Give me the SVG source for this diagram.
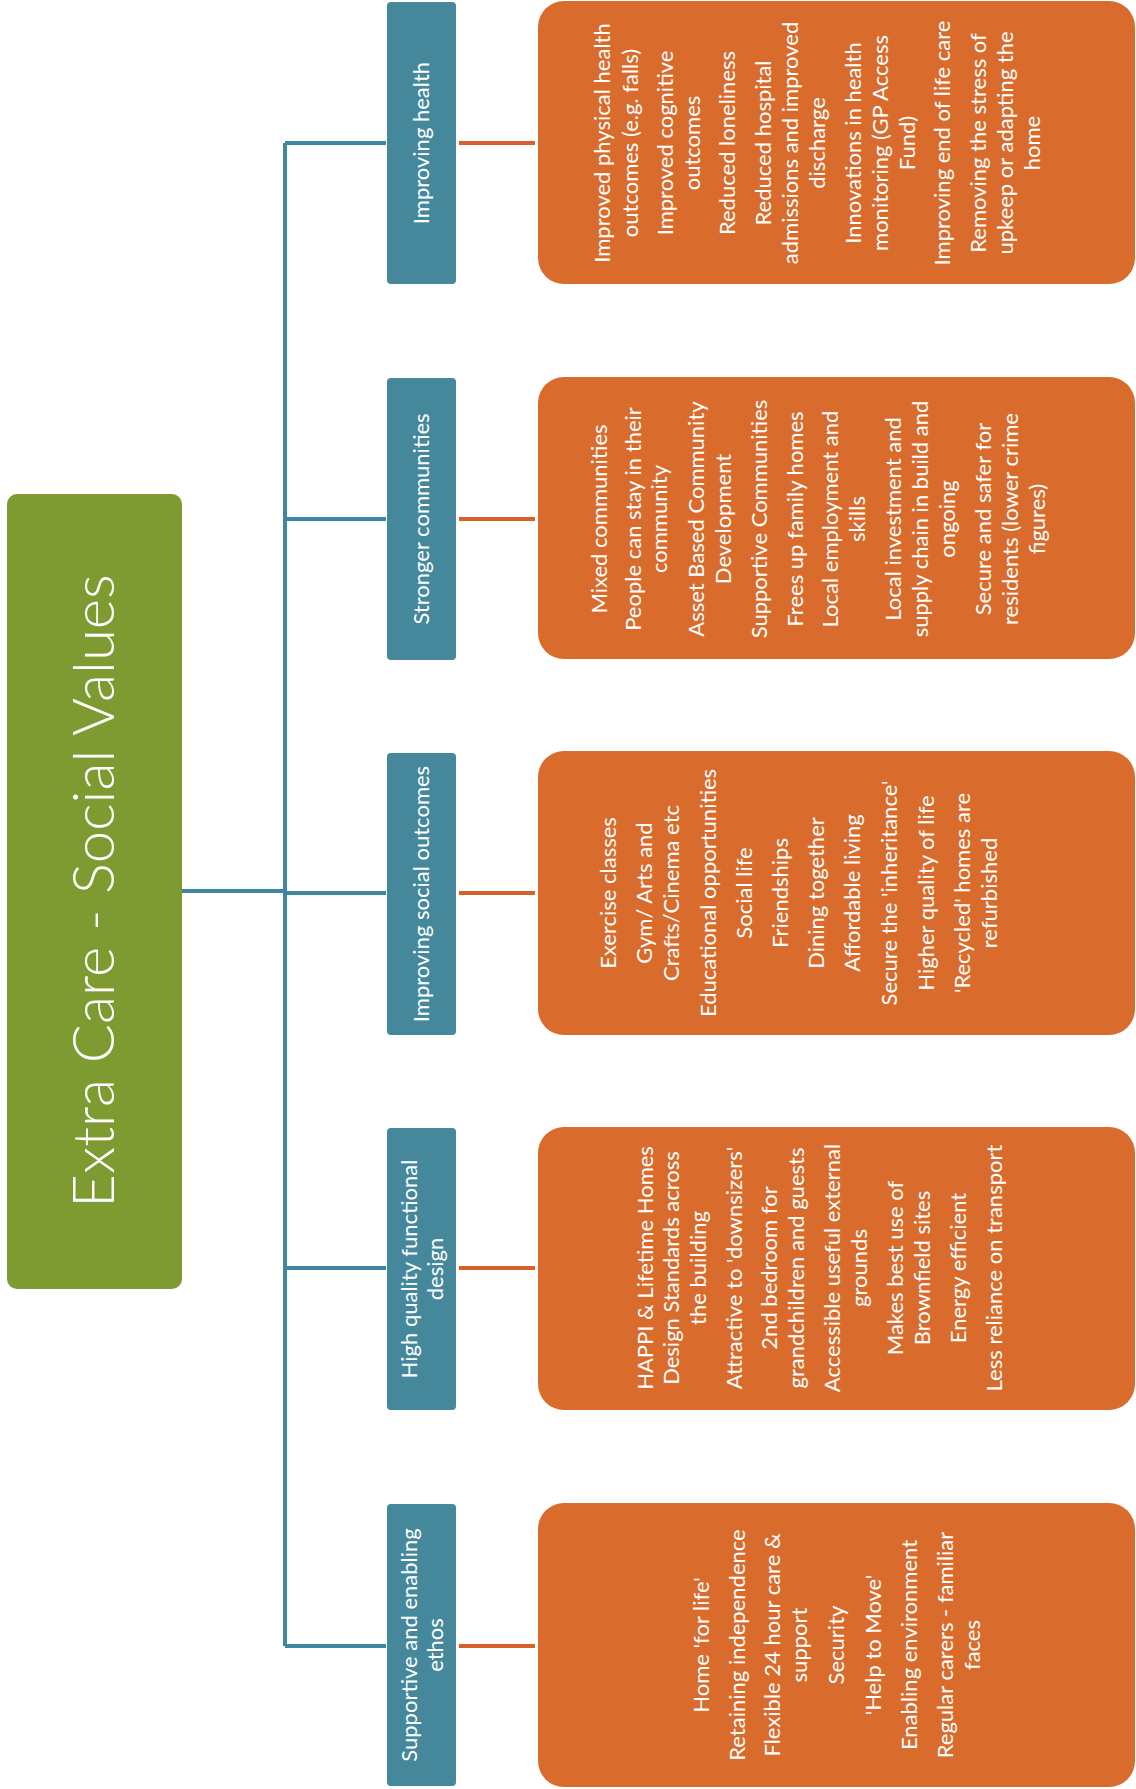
<svg xmlns="http://www.w3.org/2000/svg" width="1136" height="1789" viewBox="0 0 1136 1789">
<style>
.t{font-family:Lato,"Open Sans","Liberation Sans",sans-serif;fill:#ffffff;text-anchor:middle;font-size:22px}
.title{font-size:58px;font-weight:300}
.green{fill:#7E9B31}
.teal{fill:#45879B}
.orange{fill:#D96B2C}
.cb{stroke:#3F86A0;stroke-width:4;fill:none}
.co{stroke:#D6612A;stroke-width:4;fill:none}
</style>
<rect width="1136" height="1789" fill="#ffffff"/>
<g id="connectors">
<path class="cb" d="M182 891H285M285 143V1646M285 143H386M285 519H386M285 893H386M285 1268H386M285 1646H386"/>
<path class="co" d="M459 143H535M459 519H535M459 893H535M459 1268H535M459 1646H535"/>
</g>
<g id="root">
<rect class="green" x="7" y="494" width="175" height="795" rx="10"/>
<text class="t title" transform="translate(114,891) rotate(-90)">Extra Care - Social Values</text>
</g>
<g id="cat-health">
<rect class="teal" x="387" y="2" width="69" height="282" rx="4"/>
<g transform="rotate(-90)"><text class="t" x="-143" y="429">Improving health</text></g>
</g>
<g id="cat-communities">
<rect class="teal" x="387" y="378" width="69" height="282" rx="4"/>
<g transform="rotate(-90)"><text class="t" x="-519" y="429">Stronger communities</text></g>
</g>
<g id="cat-social">
<rect class="teal" x="387" y="753" width="69" height="282" rx="4"/>
<g transform="rotate(-90)"><text class="t" x="-894" y="429">Improving social outcomes</text></g>
</g>
<g id="cat-design">
<rect class="teal" x="387" y="1128" width="69" height="282" rx="4"/>
<g transform="rotate(-90)"><text class="t" x="-1269" y="417">High quality functional</text><text class="t" x="-1269" y="443">design</text></g>
</g>
<g id="cat-ethos">
<rect class="teal" x="387" y="1504" width="69" height="282" rx="4"/>
<g transform="rotate(-90)"><text class="t" x="-1645" y="417">Supportive and enabling</text><text class="t" x="-1645" y="443">ethos</text></g>
</g>
<g id="detail-health">
<rect class="orange" x="538" y="1" width="597" height="283" rx="26"/>
<g transform="rotate(-90)">
<text class="t" x="-143" y="610">Improved physical health</text>
<text class="t" x="-143" y="638">outcomes (e.g. falls)</text>
<text class="t" x="-143" y="673">Improved cognitive</text>
<text class="t" x="-143" y="700">outcomes</text>
<text class="t" x="-143" y="735">Reduced loneliness</text>
<text class="t" x="-143" y="771">Reduced hospital</text>
<text class="t" x="-143" y="798">admissions and improved</text>
<text class="t" x="-143" y="825">discharge</text>
<text class="t" x="-143" y="861">Innovations in health</text>
<text class="t" x="-143" y="888">monitoring (GP Access</text>
<text class="t" x="-143" y="915">Fund)</text>
<text class="t" x="-143" y="950">Improving end of life care</text>
<text class="t" x="-143" y="986">Removing the stress of</text>
<text class="t" x="-143" y="1013">upkeep or adapting the</text>
<text class="t" x="-143" y="1040">home</text>
</g>
</g>
<g id="detail-communities">
<rect class="orange" x="538" y="377" width="597" height="282" rx="26"/>
<g transform="rotate(-90)">
<text class="t" x="-519" y="607">Mixed communities</text>
<text class="t" x="-519" y="641">People can stay in their</text>
<text class="t" x="-519" y="667">community</text>
<text class="t" x="-519" y="704">Asset Based Community</text>
<text class="t" x="-519" y="731">Development</text>
<text class="t" x="-519" y="767">Supportive Communities</text>
<text class="t" x="-519" y="803">Frees up family homes</text>
<text class="t" x="-519" y="838">Local employment and</text>
<text class="t" x="-519" y="865">skills</text>
<text class="t" x="-519" y="901">Local investment and</text>
<text class="t" x="-519" y="928">supply chain in build and</text>
<text class="t" x="-519" y="955">ongoing</text>
<text class="t" x="-519" y="991">Secure and safer for</text>
<text class="t" x="-519" y="1018">residents (lower crime</text>
<text class="t" x="-519" y="1045">figures)</text>
</g>
</g>
<g id="detail-social">
<rect class="orange" x="538" y="751" width="597" height="284" rx="26"/>
<g transform="rotate(-90)">
<text class="t" x="-893" y="616">Exercise classes</text>
<text class="t" x="-893" y="652">Gym/ Arts and</text>
<text class="t" x="-893" y="679">Crafts/Cinema etc</text>
<text class="t" x="-893" y="716">Educational opportunities</text>
<text class="t" x="-893" y="752">Social life</text>
<text class="t" x="-893" y="788">Friendships</text>
<text class="t" x="-893" y="824">Dining together</text>
<text class="t" x="-893" y="860">Affordable living</text>
<text class="t" x="-893" y="897">Secure the 'inheritance'</text>
<text class="t" x="-893" y="934">Higher quality of life</text>
<text class="t" x="-893" y="970">'Recycled' homes are</text>
<text class="t" x="-893" y="997">refurbished</text>
</g>
</g>
<g id="detail-design">
<rect class="orange" x="538" y="1127" width="597" height="283" rx="26"/>
<g transform="rotate(-90)">
<text class="t" x="-1268" y="653">HAPPI &amp; Lifetime Homes</text>
<text class="t" x="-1268" y="679">Design Standards across</text>
<text class="t" x="-1268" y="706">the building</text>
<text class="t" x="-1268" y="742">Attractive to 'downsizers'</text>
<text class="t" x="-1268" y="777">2nd bedroom for</text>
<text class="t" x="-1268" y="804">grandchildren and guests</text>
<text class="t" x="-1268" y="840">Accessible useful external</text>
<text class="t" x="-1268" y="867">grounds</text>
<text class="t" x="-1268" y="903">Makes best use of</text>
<text class="t" x="-1268" y="930">Brownfield sites</text>
<text class="t" x="-1268" y="966">Energy efficient</text>
<text class="t" x="-1268" y="1002">Less reliance on transport</text>
</g>
</g>
<g id="detail-ethos">
<rect class="orange" x="538" y="1503" width="597" height="284" rx="26"/>
<g transform="rotate(-90)">
<text class="t" x="-1645" y="709">Home 'for life'</text>
<text class="t" x="-1645" y="745">Retaining independence</text>
<text class="t" x="-1645" y="780">Flexible 24 hour care &amp;</text>
<text class="t" x="-1645" y="807">support</text>
<text class="t" x="-1645" y="844">Security</text>
<text class="t" x="-1645" y="881">'Help to Move'</text>
<text class="t" x="-1645" y="917">Enabling environment</text>
<text class="t" x="-1645" y="953">Regular carers - familiar</text>
<text class="t" x="-1645" y="980">faces</text>
</g>
</g>
</svg>
